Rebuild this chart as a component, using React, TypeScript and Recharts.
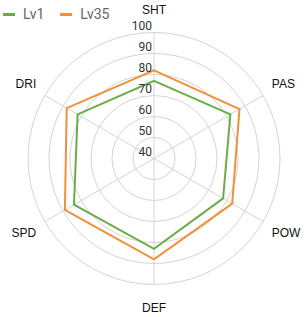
import React from "react";
import { RadarChart, Radar, PolarGrid, PolarAngleAxis, PolarRadiusAxis } from "recharts";

const categories = ["SHT", "PAS", "POW", "DEF", "SPD", "DRI"];
const lv1Values = [77, 82, 78, 83, 84, 82];
const lv35Values = [82, 87, 83, 88, 89, 88];
const seriesNames = ["Lv1", "Lv35"];
const seriesColors = ["#6aad48", "#f0913a"];
const radiusDomain = [40, 100];
const radiusTicks = [40, 50, 60, 70, 80, 90, 100];

const data = categories.map((c, i) => ({ name: c, lv1: lv1Values[i], lv35: lv35Values[i] }));

const W = 308;
const H = 317;

const AngleTick = (props: any) => {
  const { payload } = props;
  const cx = props.cx ?? W / 2;
  const cy = props.cy ?? H / 2;
  const a = (payload.coordinate * Math.PI) / 180;
  const cos = Math.cos(a);
  const sin = Math.sin(a);
  const x = cx + 136 * cos;
  const y = cy - 149 * sin;
  const anchor = Math.abs(cos) < 0.1 ? "middle" : cos > 0 ? "start" : "end";
  return (
    <text
      x={x}
      y={y}
      textAnchor={anchor}
      dominantBaseline="central"
      fontFamily="'Liberation Sans', Arial, sans-serif"
      fontSize={12}
      fill="#111"
    >
      {payload.value}
    </text>
  );
};

const RadiusTick = (props: any) => {
  const { x, y, payload } = props;
  return (
    <text
      x={x - 2}
      y={y - 3}
      textAnchor="end"
      fontFamily="Roboto, sans-serif"
      fontSize={12}
      fill="#333"
    >
      {payload.value}
    </text>
  );
};

export default function App() {
  return (
    <div style={{ position: "absolute", left: 0, top: 0, width: W, height: H, background: "#fff" }}>
      <RadarChart
        width={W}
        height={H}
        data={data}
        cx="50%"
        cy="50%"
        outerRadius={126}
        margin={{ top: 0, right: 0, bottom: 0, left: 0 }}
      >
        <PolarGrid gridType="circle" stroke="#d4d4d4" />
        <PolarAngleAxis dataKey="name" tick={<AngleTick />} tickLine={false} axisLine={false} />
        <PolarRadiusAxis
          angle={90}
          domain={radiusDomain}
          ticks={radiusTicks as any}
          tickCount={7}
          axisLine={false}
          tick={<RadiusTick />}
        />
        <Radar
          name={seriesNames[0]}
          dataKey="lv1"
          stroke={seriesColors[0]}
          strokeWidth={2}
          fill="none"
          fillOpacity={0}
          isAnimationActive={false}
        />
        <Radar
          name={seriesNames[1]}
          dataKey="lv35"
          stroke={seriesColors[1]}
          strokeWidth={2}
          fill="none"
          fillOpacity={0}
          isAnimationActive={false}
        />
      </RadarChart>
      <div
        style={{
          position: "absolute",
          left: 3,
          top: 5,
          display: "flex",
          alignItems: "center",
          fontFamily: "Roboto, sans-serif",
          fontSize: 14,
          color: "#666",
          lineHeight: "18px",
        }}
      >
        {seriesNames.map((n, i) => (
          <div key={n} style={{ display: "flex", alignItems: "center", marginRight: 16 }}>
            <span style={{ display: "inline-block", width: 12, height: 3, background: seriesColors[i], marginRight: 8 }} />
            <span>{n}</span>
          </div>
        ))}
      </div>
    </div>
  );
}
